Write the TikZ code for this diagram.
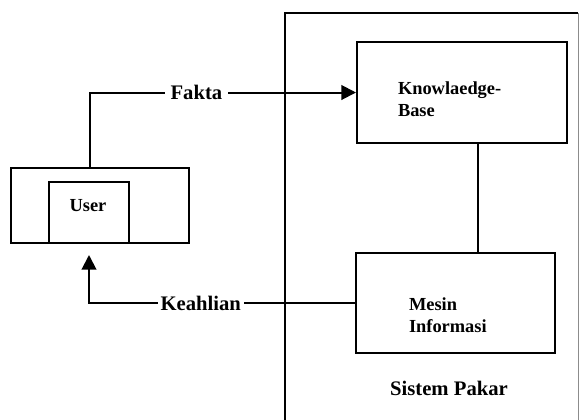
\documentclass[tikz,border=0pt]{standalone}
\usepackage{fontspec}
\setmainfont{Liberation Serif}
\usetikzlibrary{arrows.meta,positioning}

\begin{document}
\begin{tikzpicture}
   [x=0.75pt, y=-0.75pt, line width=1.5pt,
   box/.style={draw=black, fill=none, inner sep=0pt, rectangle},
   boxtext/.style={draw=none, fill=none, align=left, inner sep=0pt, font=\fontsize{13.8}{16.5}\selectfont\bfseries},
   flowlabel/.style={draw=none, fill=white, inner sep=4pt, font=\fontsize{15.5}{17}\selectfont\bfseries},
   flow/.style={-{Triangle[length=11pt,width=11pt]}}]{
\useasboundingbox (0,0) rectangle (579,419);

% sistem pakar frame
\draw (285,425) |- (578,13);
\draw[black!45, line width=0.6pt] (578,13) -- (578,425);
\node[boxtext] (sptext) at (449,388) {\fontsize{15.5}{17}\selectfont Sistem Pakar};

% boxes
\node[box, minimum width=157.5pt, minimum height=75.75pt] (kb) at (462,92.5) {};
\node[box, minimum width=149.25pt, minimum height=75pt] (mesin) at (455.5,303) {};
\node[box, minimum width=133.5pt, minimum height=56.25pt] (userout) at (100,205.5) {};
\node[box, minimum width=60pt, minimum height=45.75pt] (userin) at (89,212.5) {};

\node[boxtext, anchor=west] (kbtext) at (397,99) {Knowlaedge-\\Base};
\node[boxtext, anchor=west] (mesintext) at (408,315) {Mesin\\Informasi};
\node[boxtext] (usertext) at (88,206) {User};

% connectors
\draw (kb.south -| 478,0) -- (mesin.north -| 478,0);
\draw[flow] (userout.north -| 90,0) |- node[flowlabel, pos=0.70] (fakta) {Fakta} (kb.west);
\draw[flow] (mesin.west) -| node[flowlabel, pos=0.29, inner sep=2pt] (keahlian) {Keahlian} ([yshift=-8.25pt]userin.south);
};
\end{tikzpicture}
\end{document}
